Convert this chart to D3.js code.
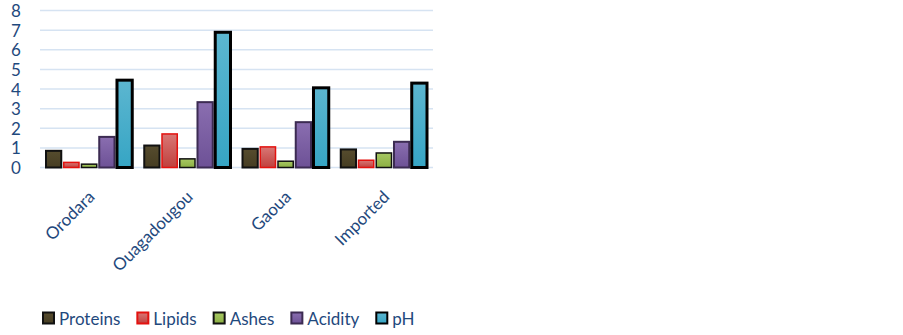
<!DOCTYPE html>
<html>
<head>
<meta charset="utf-8">
<script src="https://cdn.jsdelivr.net/npm/d3@7"></script>
<style>
  body { margin: 0; background: #fff; }
  svg text { font-family: Lato, "Open Sans", sans-serif; fill: #1f497d; }
</style>
</head>
<body>
<div id="chart"></div>
<script>
// categories and series
const regions = ["Orodara", "Ouagadougou", "Gaoua", "Imported"];
const seriesNames = ["Proteins", "Lipids", "Ashes", "Acidity", "pH"];
const proteins = [0.85, 1.12, 0.95, 0.92];
const lipids   = [0.26, 1.71, 1.05, 0.37];
const ashes    = [0.17, 0.44, 0.32, 0.74];
const acidity  = [1.56, 3.33, 2.31, 1.31];
const ph       = [4.45, 6.89, 4.06, 4.30];
const yTicks = [0, 1, 2, 3, 4, 5, 6, 7, 8];

const seriesValues = [proteins, lipids, ashes, acidity, ph];
const styles = [
  { top: "#564c2e", bottom: "#463d22", stroke: "#111", sw: 2 },
  { top: "#d97775", bottom: "#c0403d", stroke: "#e3120f", sw: 1.5 },
  { top: "#a7c863", bottom: "#8cb043", stroke: "#111", sw: 1.5 },
  { top: "#8a6eb0", bottom: "#6d5196", stroke: "#3c2b52", sw: 2 },
  { top: "#5cb6d0", bottom: "#36a5c4", stroke: "#000", sw: 3 }
];

const W = 903, H = 335;
const margin = { top: 10.5, left: 40, right: 470, bottom: 167.5 };
const plotW = W - margin.left - margin.right;
const plotH = H - margin.top - margin.bottom;

const svg = d3.select("#chart").append("svg")
  .attr("width", W).attr("height", H);

const defs = svg.append("defs");
styles.forEach((st, i) => {
  const gr = defs.append("linearGradient").attr("id", "grad" + i)
    .attr("x1", "0%").attr("x2", "0%").attr("y1", "0%").attr("y2", "100%");
  gr.append("stop").attr("offset", "0%").attr("stop-color", st.top);
  gr.append("stop").attr("offset", "100%").attr("stop-color", st.bottom);
});

const g = svg.append("g").attr("transform", `translate(${margin.left},${margin.top})`);

const x0 = d3.scaleBand().domain(regions).range([0, plotW]).paddingInner(0).paddingOuter(0);
const x1 = d3.scaleBand().domain(seriesNames).range([6, x0.bandwidth() - 6]).paddingInner(0.14);
const y = d3.scaleLinear().domain([0, 8]).range([plotH, 0]);

// gridlines
g.selectAll("line.grid").data(yTicks).enter().append("line")
  .attr("x1", 0).attr("x2", plotW)
  .attr("y1", d => y(d)).attr("y2", d => y(d))
  .attr("stroke", "#d6e3f2").attr("stroke-width", 1.5);

// y tick labels
g.selectAll("text.ytick").data(yTicks).enter().append("text")
  .attr("x", -24).attr("y", d => y(d))
  .attr("text-anchor", "middle").attr("dominant-baseline", "central")
  .style("font-size", "17px")
  .text(d => d);

// bars
seriesNames.forEach((s, si) => {
  const st = styles[si];
  g.selectAll(`rect.s${si}`).data(seriesValues[si]).enter().append("rect")
    .attr("x", (d, i) => x0(regions[i]) + x1(s))
    .attr("y", d => y(d))
    .attr("width", x1.bandwidth())
    .attr("height", d => y(0) - y(d))
    .attr("fill", `url(#grad${si})`)
    .attr("stroke", st.stroke)
    .attr("stroke-width", st.sw);
});

// category labels rotated
g.selectAll("text.xlab").data(regions).enter().append("text")
  .attr("transform", d => `translate(${x0(d) + x0.bandwidth() / 2 + 2},${plotH + 26}) rotate(-45)`)
  .attr("text-anchor", "end")
  .attr("dominant-baseline", "central")
  .style("font-size", "17px")
  .text(d => d);

// legend
const legend = svg.append("g").attr("transform", "translate(43,318)");
let lx = 0;
seriesNames.forEach((s, si) => {
  const st = styles[si];
  const item = legend.append("g").attr("transform", `translate(${lx},0)`);
  item.append("rect")
    .attr("x", 0).attr("y", -5.5).attr("width", 11).attr("height", 11)
    .attr("fill", `url(#grad${si})`).attr("stroke", st.stroke).attr("stroke-width", 2);
  const t = item.append("text")
    .attr("x", 16).attr("y", 0).attr("dominant-baseline", "central")
    .style("font-size", "17px").text(s);
  lx += 16 + t.node().getComputedTextLength() + 17;
});
</script>
</body>
</html>
